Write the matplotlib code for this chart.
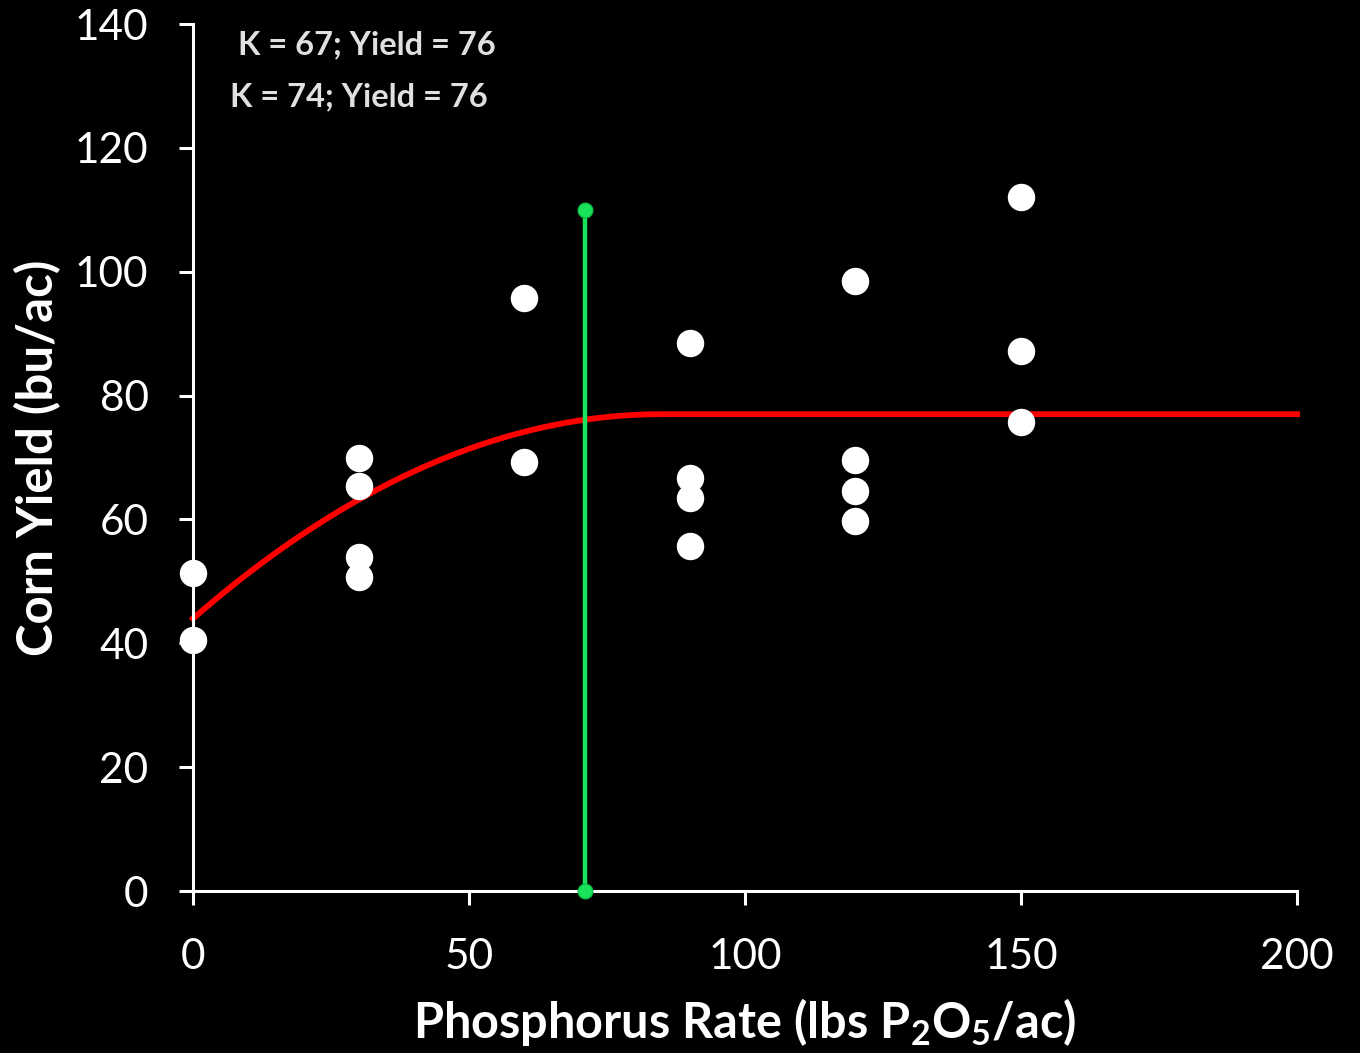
import numpy as np
import matplotlib
matplotlib.use("Agg")
import matplotlib.pyplot as plt

# observed plot yields
rate = [0, 0, 30, 30, 30, 30, 60, 60, 90, 90, 90, 90, 120, 120, 120, 120, 150, 150, 150]
yld = [51.4, 40.5, 70, 65.4, 54, 50.7, 95.8, 69.3, 88.5, 66.7, 63.5, 55.7,
       98.5, 69.6, 64.6, 59.8, 112, 87.2, 75.8]

# quadratic-plateau fit
intercept = 44.0
plateau = 77.0
join_point = 85.0
x_max = 200

# critical rate marker
crit_rate = 71
crit_top = 110

notes = ["K = 67; Yield = 76", "K = 74; Yield = 76"]

plt.rcParams['font.family'] = ['Lato', 'DejaVu Sans']
plt.rcParams['mathtext.fontset'] = 'custom'
plt.rcParams['mathtext.rm'] = 'Lato:bold'
plt.rcParams['mathtext.default'] = 'rm'

fig = plt.figure(figsize=(13.6, 10.53), dpi=100, facecolor='black')
ax = fig.add_axes([0.1419, 0.1538, 0.8118, 0.8234], facecolor='black')

b = 2 * (plateau - intercept) / join_point
c = -b / (2 * join_point)
xs = np.linspace(0, x_max, 400)
ys = np.where(xs < join_point, intercept + b * xs + c * xs ** 2, plateau)
ax.plot(xs, ys, color='#ff0000', lw=4.2, zorder=2, clip_on=False)

ax.plot([crit_rate, crit_rate], [0, crit_top], color='#19e35a', lw=3.2,
        marker='o', ms=10.5, mfc='#19e35a', mec='#10c048', zorder=3, clip_on=False)

ax.scatter(rate, yld, s=390, color='white', zorder=4, clip_on=False, linewidths=0)

ax.text(31.5, 136.6, notes[0], color='#e0e0e0', fontsize=23.5, fontweight='bold',
        ha='center', va='center')
ax.text(30, 128.2, notes[1], color='#e0e0e0', fontsize=23.5, fontweight='bold',
        ha='center', va='center')

ax.set_xlim(0, 200)
ax.set_ylim(0, 140)
ax.set_xticks([0, 50, 100, 150, 200])
ax.set_yticks(range(0, 141, 20))

for s in ['top', 'right']:
    ax.spines[s].set_visible(False)
for s in ['left', 'bottom']:
    ax.spines[s].set_color('white')
    ax.spines[s].set_linewidth(2.2)
ax.tick_params(axis='both', colors='white', labelsize=30.5, width=2.2)
ax.tick_params(axis='y', length=10, pad=22)
ax.tick_params(axis='x', length=10, pad=24)

ax.set_ylabel('Corn Yield (bu/ac)', color='white', fontsize=35.5, fontweight='bold', labelpad=10)
ax.set_xlabel('Phosphorus Rate (lbs P$_{2}$O$_{5}$/ac)', color='white', fontsize=35,
              fontweight='bold', labelpad=14)

fig.savefig('out.png', dpi=100, facecolor='black')
